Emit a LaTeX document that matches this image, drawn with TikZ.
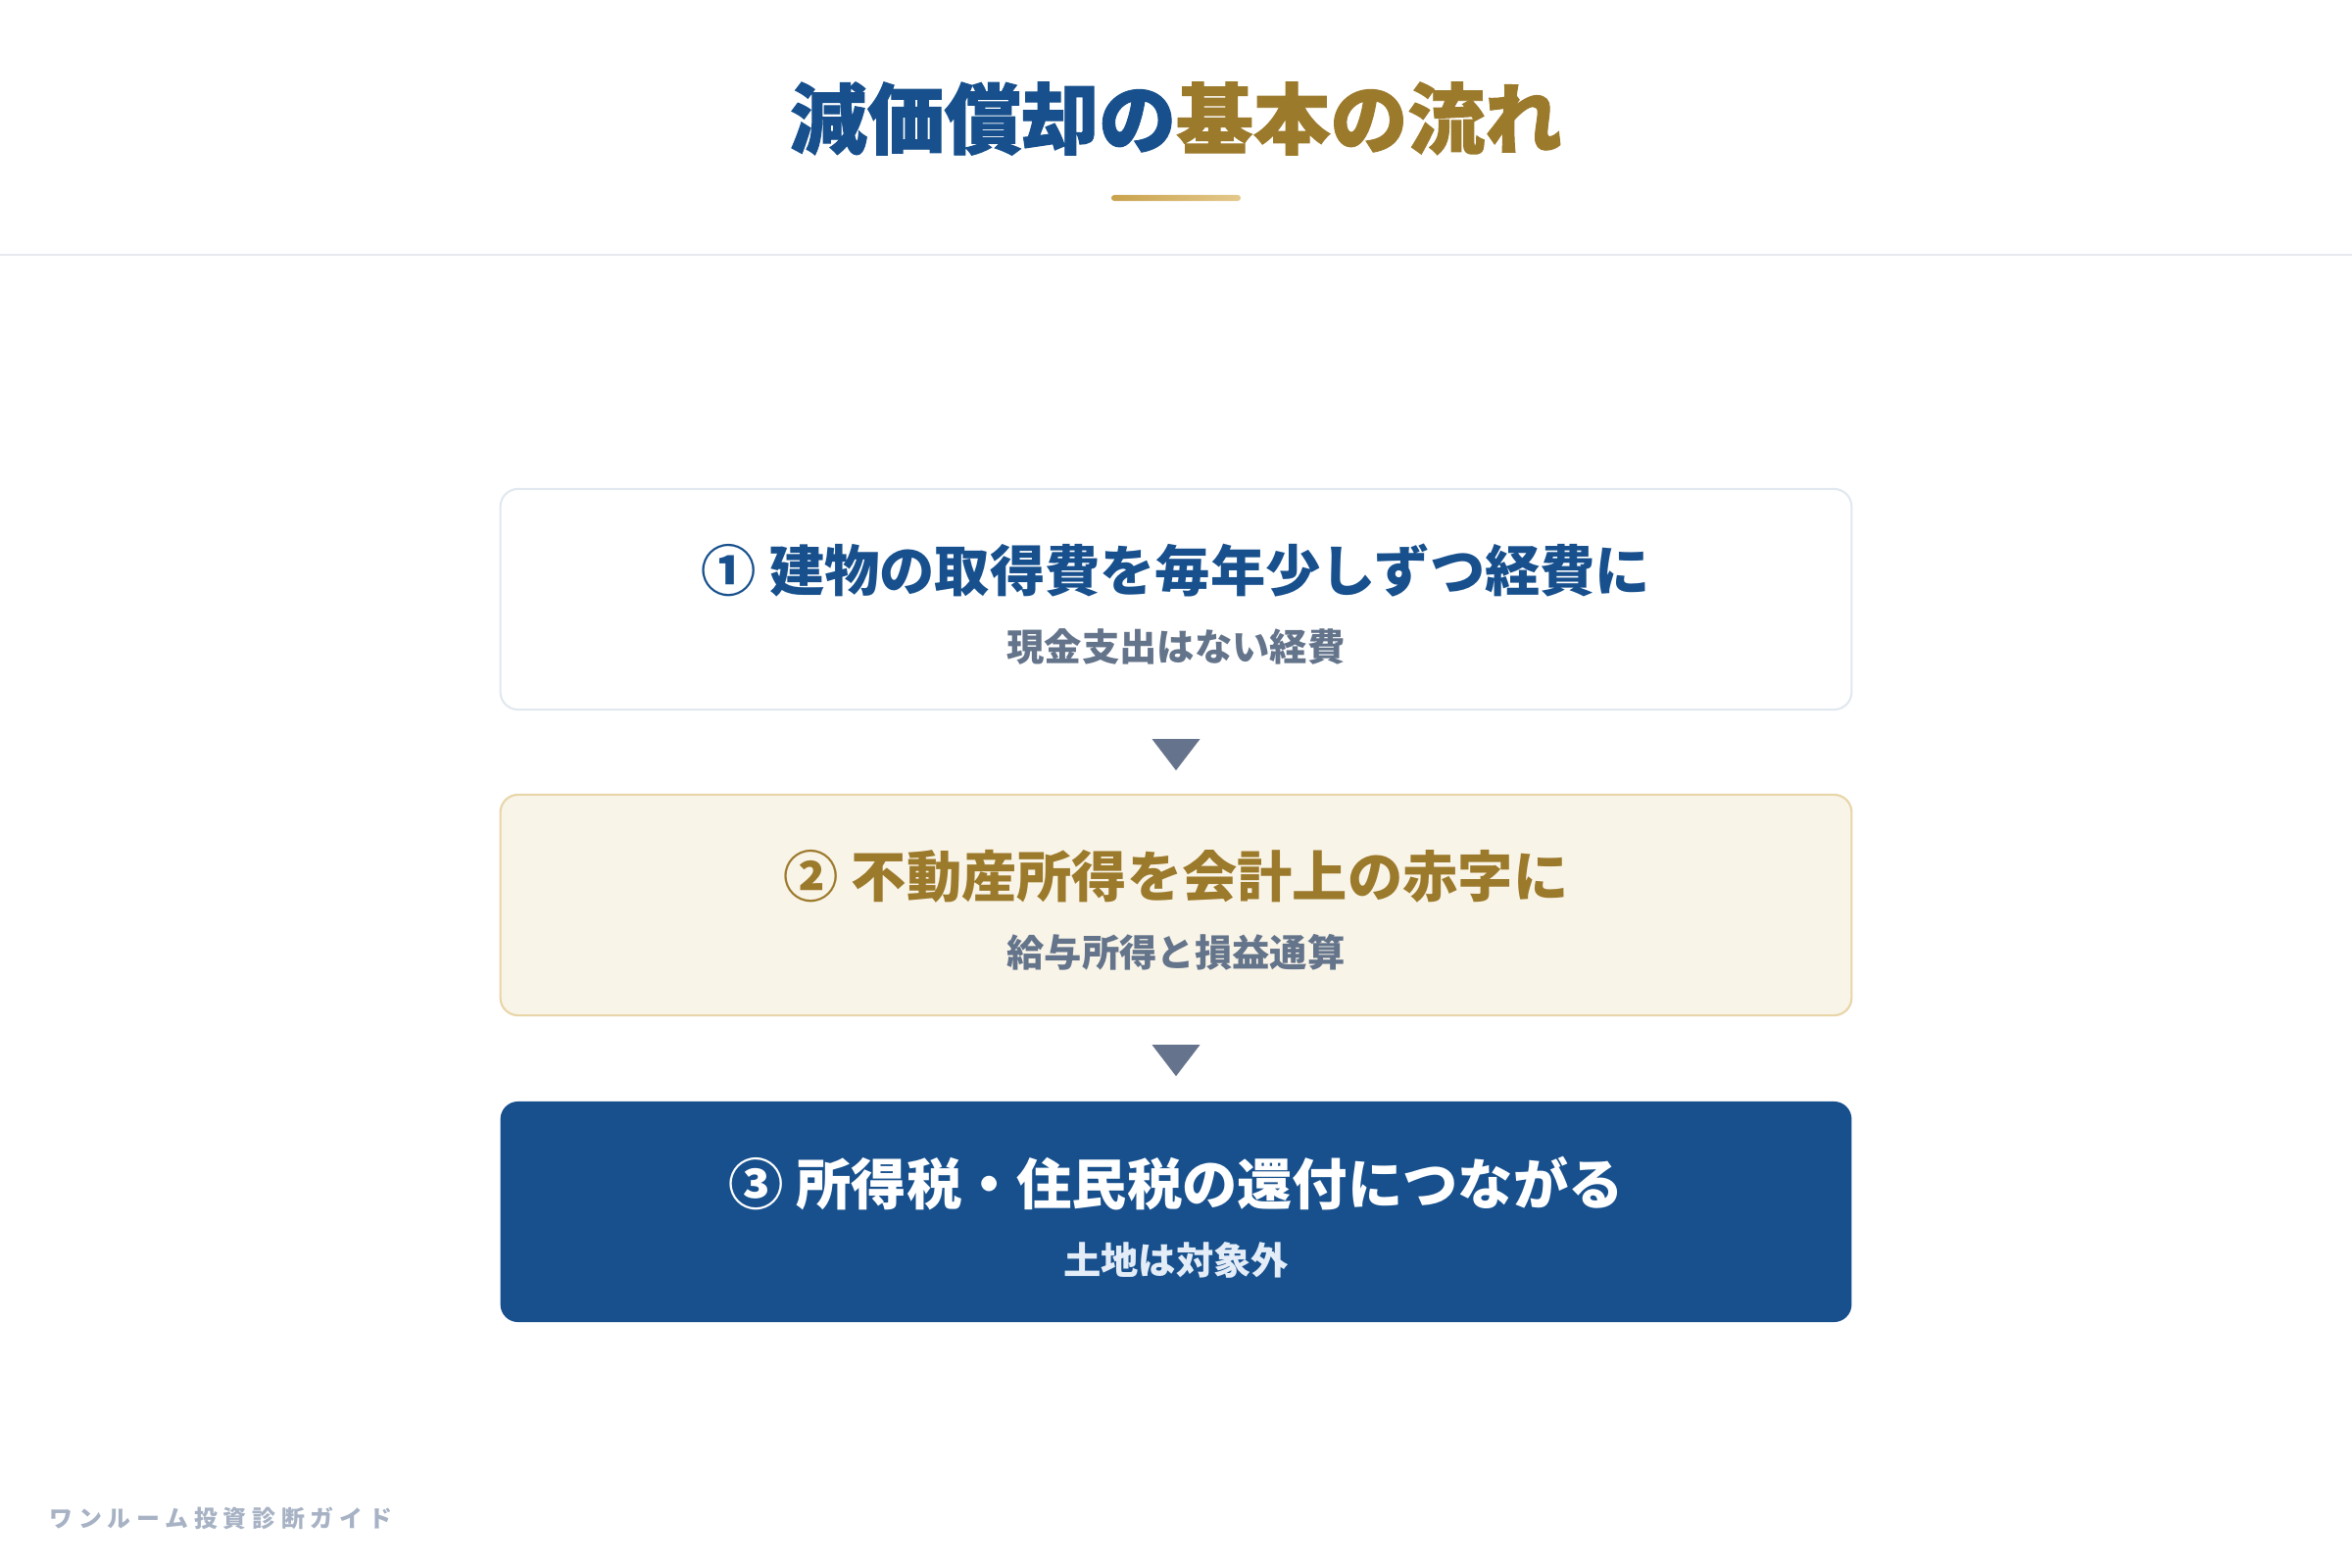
\documentclass[tikz,border=0pt]{standalone}
\usepackage{fontspec}
\setmainfont{Noto Sans CJK JP}
\definecolor{navy}{HTML}{17508D}
\definecolor{gold}{HTML}{9C7A2C}
\definecolor{goldA}{HTML}{C9A24D}
\definecolor{goldB}{HTML}{E4C98C}
\definecolor{slate}{HTML}{64748B}
\definecolor{tricol}{HTML}{65738D}
\definecolor{grayline}{HTML}{E2E8F0}
\definecolor{rule}{HTML}{E6E9EF}
\definecolor{cream}{HTML}{F9F4E8}
\definecolor{goldline}{HTML}{E8D6A9}
\definecolor{pale}{HTML}{E3ECF7}
\definecolor{footcol}{HTML}{A7B2C4}
\tikzset{
  box/.style={minimum width=13.78cm, minimum height=2.25cm, rounded corners=0.18cm, line width=0.6pt},
  headline/.style={font=\fontsize{16pt}{19pt}\selectfont\bfseries},
  subline/.style={font=\fontsize{10.9pt}{13pt}\selectfont\bfseries, text=slate},
}
\begin{document}
\begin{tikzpicture}[x=0.01cm, y=-0.01cm]
    \useasboundingbox [fill=white] (0,0) rectangle (2400,1600);
    \node (ttl) at (1200,121) {\fontsize{22.4pt}{26pt}\selectfont\bfseries\addfontfeatures{FakeBold=1.2}\textcolor{navy}{減価償却の}\textcolor{gold}{基本の流れ}};
    \node (bar) at ([shift={(0,81)}] ttl) [minimum width=1.32cm, minimum height=0.06cm, inner sep=0pt, rounded corners=0.03cm, left color=goldA, right color=goldB] {};
    \draw [rule, line width=0.5pt] (0,260) -- (2400,260);
    \node (one)   at (1200,611.5)              [box, draw=grayline, fill=white] {};
    \node (two)   at ([shift={(0,312)}] one)   [box, draw=goldline, fill=cream] {};
    \node (three) at ([shift={(0,313)}] two)   [box, fill=navy] {};
    \node (oneA)   at ([shift={(0,-29.5)}] one)   [headline, text=navy] {① 建物の取得費を毎年少しずつ経費に};
    \node (oneB)   at ([shift={(0,48.5)}]  one)   [subline] {現金支出はない経費};
    \node (twoA)   at ([shift={(0,-29.5)}] two)   [headline, text=gold] {② 不動産所得を会計上の赤字に};
    \node (twoB)   at ([shift={(0,48.5)}]  two)   [subline] {給与所得と損益通算};
    \node (threeA) at ([shift={(0,-28.5)}] three) [headline, text=white] {③ 所得税・住民税の還付につながる};
    \node (threeB) at ([shift={(0,49.5)}]  three) [subline, text=pale] {土地は対象外};
    \fill [tricol] ([shift={(-24.5,29)}] one.south) -- ([shift={(24.5,29)}] one.south) -- ([shift={(0,61)}] one.south) -- cycle;
    \fill [tricol] ([shift={(-24.5,29)}] two.south) -- ([shift={(24.5,29)}] two.south) -- ([shift={(0,61)}] two.south) -- cycle;
    \node (foot) at (50,1549) [anchor=west, inner sep=0pt, text=footcol, font=\fontsize{6.8pt}{8pt}\selectfont\bfseries\addfontfeatures{LetterSpace=24}] {ワンルーム投資診断ガイド};
  \end{tikzpicture}
\end{document}
